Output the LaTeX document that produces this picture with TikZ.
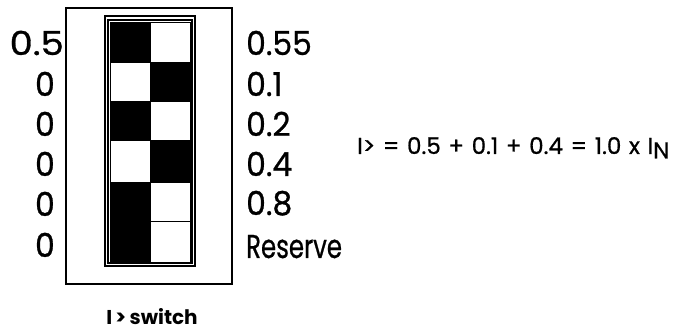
\documentclass[tikz,border=0pt]{standalone}
\usepackage{fontspec}
\setmainfont{Poppins}
\newfontfamily\pmed[FakeBold=0.8]{Poppins}
\newcommand{\gp}{\hspace{0.33em}}
\begin{document}
\begin{tikzpicture}[x=1pt,y=-1pt,
  frame/.style={draw=black,line width=1.3pt},
  cellbox/.style={draw=black,line width=0.8pt},
  blackcell/.style={fill=black,draw=black,line width=0.8pt},
  lab/.style={font=\pmed\fontsize{33}{33}\selectfont,inner sep=0pt,anchor=base east},
  rlab/.style={font=\pmed\fontsize{33}{33}\selectfont,inner sep=0pt,anchor=base west},
]
\useasboundingbox (0,0) rectangle (673,331);
% frames
\draw[frame] (66,8) rectangle (232,284);
\draw[frame] (105,16) rectangle (195,266);
\draw[frame] (108,20) rectangle (192,263);
% cells
\draw[blackcell] (110,22) rectangle (150,62);
\draw[cellbox] (150,22) rectangle (190,62);
\draw[cellbox] (110,62) rectangle (150,101);
\draw[blackcell] (150,62) rectangle (190,101);
\draw[blackcell] (110,101) rectangle (150,140);
\draw[cellbox] (150,101) rectangle (190,140);
\draw[cellbox] (110,140) rectangle (150,182);
\draw[blackcell] (150,140) rectangle (190,182);
\draw[blackcell] (110,182) rectangle (150,262);
\draw[cellbox] (150,182) rectangle (190,221);
\draw[cellbox] (150,221) rectangle (190,262);
% left labels
\node[lab] (l1) at (64,55) {\scalebox{1.12}[1]{0.5}};
\node[lab] (l2) at (55,96) {\scalebox{0.95}[1]{0}};
\node[lab] (l3) at (55,136) {\scalebox{0.95}[1]{0}};
\node[lab] (l4) at (55,176) {\scalebox{0.95}[1]{0}};
\node[lab] (l5) at (55,216) {\scalebox{0.95}[1]{0}};
\node[lab] (l6) at (55,257) {\scalebox{0.95}[1]{0}};
% right labels
\node[rlab] (r1) at (246,55) {\scalebox{0.95}[1]{0.55}};
\node[rlab] (r2) at (246,96) {\scalebox{0.95}[1]{0.1}};
\node[rlab] (r3) at (246,136) {\scalebox{0.95}[1]{0.2}};
\node[rlab] (r4) at (246,176) {\scalebox{0.95}[1]{0.4}};
\node[rlab] (r5) at (246,215) {\scalebox{0.95}[1]{0.8}};
\node[rlab] (r6) at (246,258) {\scalebox{0.74}[1]{Reserve}};
% equation
\node[font=\pmed\fontsize{23}{23}\selectfont,inner sep=0pt,anchor=base west] (eq) at (357,154) {I>\gp=\gp0.5\gp+\gp0.1\gp+\gp0.4\gp=\gp1.0\gp x\gp I\raisebox{-0.35ex}{N}};
% caption
\node[font=\fontsize{20}{20}\selectfont\bfseries,inner sep=0pt,anchor=base] (cap) at (152,325) {I\,>\,switch};
\end{tikzpicture}
\end{document}
